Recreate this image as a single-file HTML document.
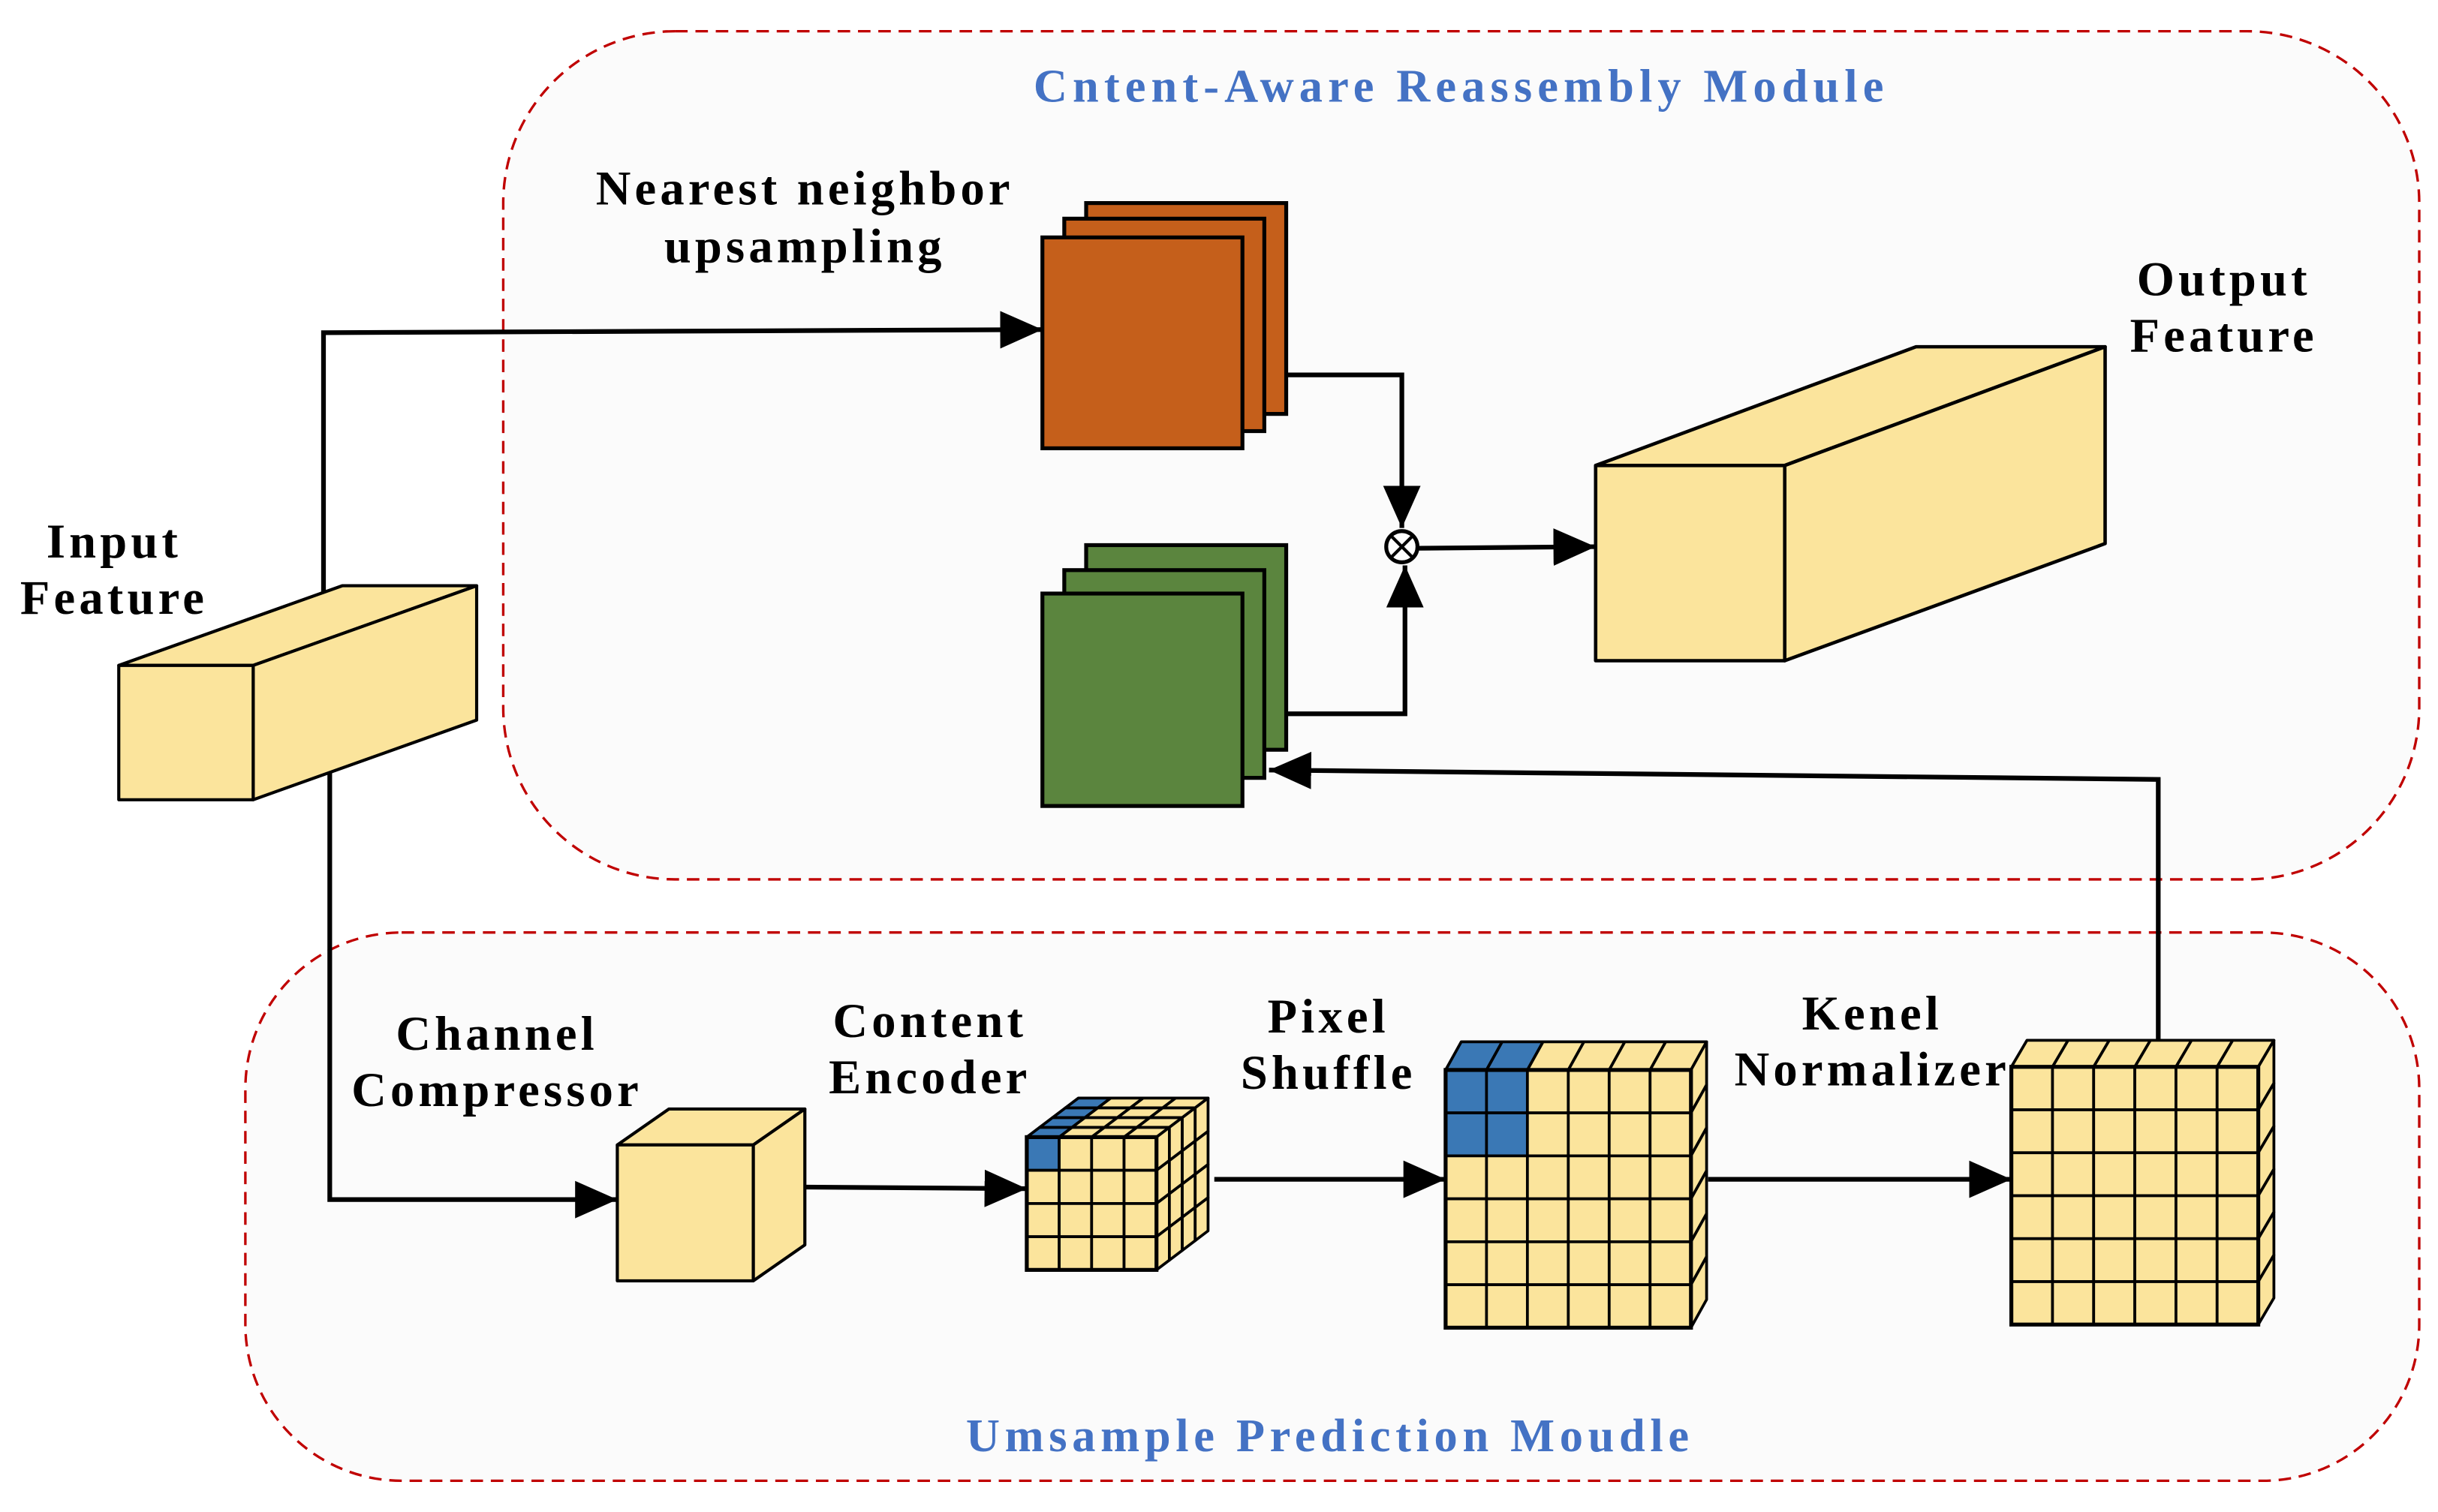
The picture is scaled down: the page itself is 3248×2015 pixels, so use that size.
<!DOCTYPE html>
<html><head><meta charset="utf-8"><style>
html,body{margin:0;padding:0;background:#fff;}
svg{display:block;}
text{font-family:"Liberation Serif",serif;font-weight:bold;letter-spacing:2.5px;}
</style></head><body>
<svg id="s" width="3248" height="2015" viewBox="0 0 1560 968" preserveAspectRatio="none" xmlns="http://www.w3.org/2000/svg">
<defs>
<marker id="ah" markerUnits="userSpaceOnUse" markerWidth="30" markerHeight="26" refX="27" refY="12" orient="auto">
<polygon points="0,0 27,12 0,24" fill="#000"/>
</marker>
</defs>
<rect x="0" y="0" width="1560" height="968" fill="#fff"/>
<rect x="322" y="20" width="1226" height="543" rx="110" ry="110" fill="#fbfbfb" stroke="#c00000" stroke-width="1.6" stroke-dasharray="8,5"/>
<rect x="157" y="597" width="1391" height="351" rx="100" ry="100" fill="#fbfbfb" stroke="#c00000" stroke-width="1.6" stroke-dasharray="8,5"/>
<text x="935" y="65" font-size="30" fill="#4472c4" text-anchor="middle" style="letter-spacing:3.4px">Cntent-Aware Reassembly Module</text>
<text x="851" y="929" font-size="30" fill="#4472c4" text-anchor="middle" style="letter-spacing:3.2px">Umsample Prediction Moudle</text>

<g stroke="#000" stroke-width="3" fill="none">
<polyline points="207,380 207,213 667,211" marker-end="url(#ah)"/>
<polyline points="823,240 897,240 897,338" marker-end="url(#ah)"/>
<polyline points="823,457 899,457 899,362" marker-end="url(#ah)"/>
<polyline points="908,351 1021,350" marker-end="url(#ah)"/>
<polyline points="1381,668 1381,499 812,493" marker-end="url(#ah)"/>
<polyline points="211,493 211,768 395,768" marker-end="url(#ah)"/>
<polyline points="515,760 657,761" marker-end="url(#ah)"/>
<polyline points="777,755 925,755" marker-end="url(#ah)"/>
<polyline points="1093,755 1287,755" marker-end="url(#ah)"/>
</g>
<circle cx="897" cy="350" r="10" fill="#fff" stroke="#000" stroke-width="2.5"/>
<line x1="890" y1="343" x2="904" y2="357" stroke="#000" stroke-width="2"/>
<line x1="904" y1="343" x2="890" y2="357" stroke="#000" stroke-width="2"/>

<g stroke="#000" stroke-width="2" fill="#fbe49c" stroke-linejoin="round">
<polygon points="76,426 162,426 305,375 219,375"/>
<polygon points="162,426 305,375 305,461 162,512"/>
<rect x="76" y="426" width="86" height="86"/>
</g>
<text x="73" y="357" font-size="31" text-anchor="middle">Input</text>
<text x="73" y="393" font-size="31" text-anchor="middle">Feature</text>

<g stroke="#000" stroke-width="2.5" fill="#c55f1b">
<rect x="695" y="130" width="128" height="135"/>
<rect x="681" y="140" width="128" height="136"/>
<rect x="667" y="152" width="128" height="135"/>
</g>
<text x="515" y="131" font-size="31" text-anchor="middle">Nearest neighbor</text>
<text x="515" y="168" font-size="31" text-anchor="middle">upsampling</text>

<g stroke="#000" stroke-width="2.5" fill="#5b853e">
<rect x="695" y="349" width="128" height="131"/>
<rect x="681" y="365" width="128" height="133"/>
<rect x="667" y="380" width="128" height="136"/>
</g>

<g stroke="#000" stroke-width="2.2" fill="#fbe49c" stroke-linejoin="round">
<polygon points="1021,298 1142,298 1347,222 1226,222"/>
<polygon points="1142,298 1347,222 1347,348 1142,423"/>
<rect x="1021" y="298" width="121" height="125"/>
</g>
<text x="1423" y="189" font-size="31" text-anchor="middle">Output</text>
<text x="1423" y="225" font-size="31" text-anchor="middle">Feature</text>

<g stroke="#000" stroke-width="2" fill="#fbe49c" stroke-linejoin="round">
<polygon points="395,733 482,733 515,710 428,710"/>
<polygon points="482,733 515,710 515,797 482,820"/>
<rect x="395" y="733" width="87" height="87"/>
</g>
<text x="318" y="672" font-size="31" text-anchor="middle">Channel</text>
<text x="318" y="708" font-size="31" text-anchor="middle">Compressor</text>
<text x="595" y="664" font-size="31" text-anchor="middle">Content</text>
<text x="595" y="700" font-size="31" text-anchor="middle">Encoder</text>
<text x="850" y="661" font-size="31" text-anchor="middle">Pixel</text>
<text x="850" y="697" font-size="31" text-anchor="middle">Shuffle</text>
<text x="1198" y="659" font-size="31" text-anchor="middle">Kenel</text>
<text x="1198" y="695" font-size="31" text-anchor="middle">Normalizer</text>
<g id="blocks"></g>
</svg>
<script>
(function(){
var NS="http://www.w3.org/2000/svg",g=document.getElementById("blocks");
function el(t,a){var e=document.createElementNS(NS,t);for(var k in a)e.setAttribute(k,a[k]);g.appendChild(e);return e;}
var Y="#fbe49c",B="#3a78b5";
function poly(pts,fill){el("polygon",{points:pts.map(function(p){return p[0]+","+p[1]}).join(" "),fill:fill,stroke:"#000","stroke-width":1.8,"stroke-linejoin":"round"});}
function block(x0,y0,w,h,dx,dy,c,r,d,blueFront,blueTop){
  var cw=w/c,rh=h/r;
  for(var i=0;i<c;i++)for(var j=0;j<d;j++){
    var f0=j/d,f1=(j+1)/d;
    var p=[[x0+i*cw+dx*f0,y0+dy*f0],[x0+(i+1)*cw+dx*f0,y0+dy*f0],[x0+(i+1)*cw+dx*f1,y0+dy*f1],[x0+i*cw+dx*f1,y0+dy*f1]];
    poly(p,blueTop(i,j)?B:Y);
  }
  for(var j=0;j<d;j++)for(var k=0;k<r;k++){
    var f0=j/d,f1=(j+1)/d;
    var p=[[x0+w+dx*f0,y0+k*rh+dy*f0],[x0+w+dx*f1,y0+k*rh+dy*f1],[x0+w+dx*f1,y0+(k+1)*rh+dy*f1],[x0+w+dx*f0,y0+(k+1)*rh+dy*f0]];
    poly(p,Y);
  }
  for(var i=0;i<c;i++)for(var k=0;k<r;k++){
    poly([[x0+i*cw,y0+k*rh],[x0+(i+1)*cw,y0+k*rh],[x0+(i+1)*cw,y0+(k+1)*rh],[x0+i*cw,y0+(k+1)*rh]],blueFront(i,k)?B:Y);
  }
  el("rect",{x:x0,y:y0,width:w,height:h,fill:"none",stroke:"#000","stroke-width":2.5});
}
block(657,728,83,85,33,-25,4,4,4,function(i,k){return i==0&&k==0},function(i,j){return i==0});
block(925,685,157,165,10,-18,6,6,1,function(i,k){return i<2&&k<2},function(i,j){return i<2});
block(1287,683,158,165,10,-17,6,6,1,function(){return false},function(){return false});
})();
</script>
</body></html>
